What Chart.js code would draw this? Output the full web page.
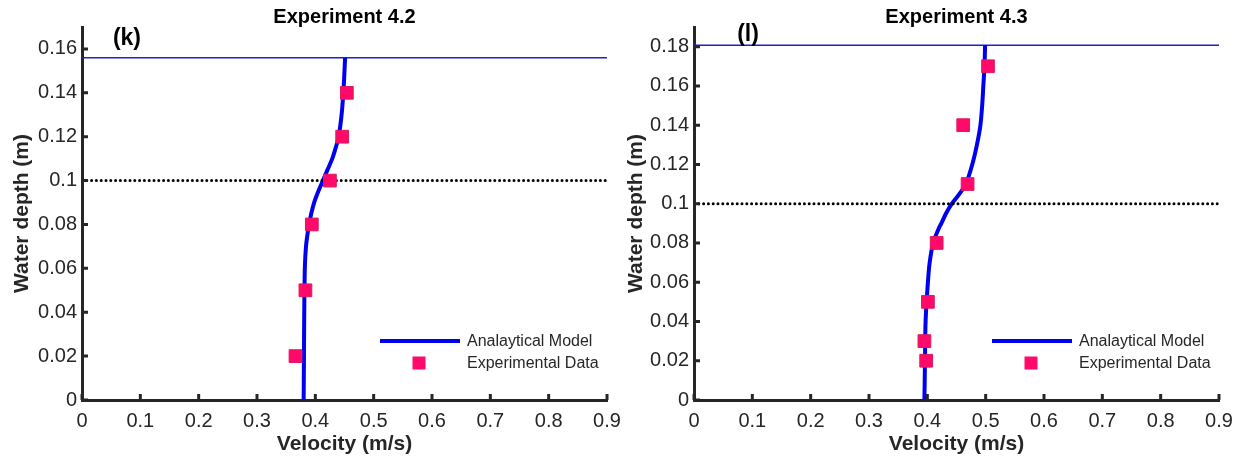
<!DOCTYPE html>
<html>
<head>
<meta charset="utf-8">
<script src="https://cdn.jsdelivr.net/npm/chart.js@4.4.1/dist/chart.umd.min.js"></script>
<style>
  body { margin: 0; background: #fff; }
  #wrap { position: relative; width: 1244px; height: 461px; }
  canvas { position: absolute; top: 0; }
  #chartK { left: 0; }
  #chartL { left: 622px; }
</style>
</head>
<body>
<div id="wrap">
  <canvas id="chartK" width="622" height="461"></canvas>
  <canvas id="chartL" width="622" height="461"></canvas>
</div>
<script>
// ---- Experiment 4.2 (k) ----
const depthModelK = [0, 0.02, 0.04, 0.06, 0.07, 0.078, 0.085, 0.09, 0.095, 0.1, 0.105, 0.11, 0.115, 0.12, 0.13, 0.14, 0.15, 0.156];
const velModelK   = [0.380, 0.3805, 0.381, 0.382, 0.384, 0.388, 0.393, 0.398, 0.405, 0.413, 0.421, 0.429, 0.435, 0.440, 0.445, 0.448, 0.450, 0.451];
const depthExpK = [0.02, 0.05, 0.08, 0.10, 0.12, 0.14];
const velExpK   = [0.366, 0.383, 0.394, 0.425, 0.446, 0.454];
const surfaceK = 0.156;

// ---- Experiment 4.3 (l) ----
const depthModelL = [0, 0.02, 0.04, 0.06, 0.07, 0.08, 0.087, 0.09, 0.095, 0.1, 0.105, 0.11, 0.12, 0.13, 0.14, 0.15, 0.16, 0.17, 0.1807];
const velModelL   = [0.395, 0.396, 0.397, 0.401, 0.404, 0.410, 0.419, 0.424, 0.432, 0.442, 0.455, 0.466, 0.477, 0.485, 0.491, 0.494, 0.496, 0.498, 0.499];
const depthExpL = [0.02, 0.03, 0.05, 0.08, 0.11, 0.14, 0.17];
const velExpL   = [0.398, 0.395, 0.401, 0.416, 0.469, 0.4615, 0.504];
const surfaceL = 0.1807;

const interfaceDepth = 0.1;
const xTicks  = [0, 0.1, 0.2, 0.3, 0.4, 0.5, 0.6, 0.7, 0.8, 0.9];
const yTicksK = [0, 0.02, 0.04, 0.06, 0.08, 0.1, 0.12, 0.14, 0.16];
const yTicksL = [0, 0.02, 0.04, 0.06, 0.08, 0.1, 0.12, 0.14, 0.16, 0.18];

const AXIS = '#262626';
const MODEL = '#0000f0';
const EXP = '#ff0a6a';
Chart.defaults.font.family = '"Liberation Sans", Arial, sans-serif';
Chart.defaults.color = AXIS;

const pts = (xs, ys) => xs.map((x, i) => ({ x: x, y: ys[i] }));
const fmt = v => String(+v.toFixed(2));

// MATLAB style ticks pointing into the axes
const inwardTicks = {
  id: 'inwardTicks',
  afterDraw(chart) {
    const { ctx, chartArea: a, scales: { x, y } } = chart;
    ctx.save();
    ctx.strokeStyle = AXIS;
    ctx.lineWidth = 3;
    ctx.beginPath();
    x.ticks.forEach(t => {
      const px = x.getPixelForValue(t.value);
      ctx.moveTo(px, a.bottom);
      ctx.lineTo(px, a.bottom - 6);
    });
    y.ticks.forEach(t => {
      const py = y.getPixelForValue(t.value);
      ctx.moveTo(a.left, py);
      ctx.lineTo(a.left + 6, py);
    });
    ctx.stroke();
    ctx.restore();
  }
};

// panel letter and in-axes legend
const annotations = {
  id: 'annotations',
  afterDraw(chart, args, opts) {
    const { ctx, chartArea: a, scales: { x, y } } = chart;
    const ds = chart.data.datasets;
    ctx.save();
    ctx.fillStyle = '#000';
    ctx.font = 'bold 23px "Liberation Sans", Arial, sans-serif';
    ctx.textBaseline = 'middle';
    ctx.fillText(opts.letter, x.getPixelForValue(opts.letterX), y.getPixelForValue(opts.letterY));

    // legend
    const ly1 = 341, ly2 = 363;
    ctx.strokeStyle = ds[0].borderColor;
    ctx.lineWidth = 4;
    ctx.beginPath();
    ctx.moveTo(a.left + 298, ly1);
    ctx.lineTo(a.left + 378, ly1);
    ctx.stroke();
    ctx.fillStyle = ds[1].backgroundColor;
    ctx.fillRect(a.left + 337 - 6.5, ly2 - 6.5, 13, 13);
    ctx.fillStyle = AXIS;
    ctx.font = '16px "Liberation Sans", Arial, sans-serif';
    ctx.fillText(ds[0].label, a.left + 385, ly1 + 1);
    ctx.fillText(ds[1].label, a.left + 385, ly2 + 1);
    ctx.restore();
  }
};

function makeChart(id, cfg) {
  return new Chart(document.getElementById(id), {
    type: 'scatter',
    data: {
      datasets: [
        {
          label: 'Analaytical Model',
          data: pts(cfg.modelVel, cfg.modelDepth),
          showLine: true,
          borderColor: MODEL,
          borderWidth: 4,
          pointRadius: 0,
          tension: 0.3,
          order: 2
        },
        {
          label: 'Experimental Data',
          data: pts(cfg.expVel, cfg.expDepth),
          backgroundColor: EXP,
          borderColor: '#e0185c',
          borderWidth: 1,
          pointStyle: 'rect',
          pointRadius: 9,
          order: 0
        },
        {
          label: 'surface',
          data: pts([0, 0.9], [cfg.surface, cfg.surface]),
          showLine: true,
          borderColor: '#2020c8',
          borderWidth: 1.5,
          pointRadius: 0,
          order: 3
        },
        {
          label: 'interface',
          data: pts([0, 0.9], [interfaceDepth, interfaceDepth]),
          showLine: true,
          borderColor: '#000',
          borderWidth: 3,
          borderDash: [0, 4.8],
          borderCapStyle: 'round',
          pointRadius: 0,
          order: 1
        }
      ]
    },
    options: {
      responsive: false,
      animation: false,
      events: [],
      layout: { padding: { right: cfg.padRight } },
      plugins: {
        legend: { display: false },
        tooltip: { enabled: false },
        title: {
          display: true,
          text: cfg.title,
          fullSize: false,
          color: '#000',
          font: { size: 20, weight: 'bold' },
          padding: { top: 5, bottom: -2 }
        },
        annotations: { letter: cfg.letter, letterX: cfg.letterX, letterY: cfg.letterY }
      },
      scales: {
        x: {
          min: 0, max: 0.9,
          afterBuildTicks: s => { s.ticks = xTicks.map(v => ({ value: v })); },
          afterFit: s => { s.height = 61; s.paddingLeft = 0; s.paddingRight = 0; },
          grid: { display: false, drawTicks: false },
          border: { display: true, width: 3, color: AXIS },
          ticks: { font: { size: 20 }, padding: 9, color: AXIS, callback: fmt, maxRotation: 0 },
          title: {
            display: true, text: 'Velocity (m/s)', color: AXIS,
            font: { size: 21, weight: 'bold' }, padding: { top: 0, bottom: 4 }
          }
        },
        y: {
          min: 0, max: cfg.yMax,
          afterBuildTicks: s => { s.ticks = cfg.yTicks.map(v => ({ value: v })); },
          afterFit: s => { s.width = cfg.yWidth; s.paddingTop = 0; s.paddingBottom = 0; },
          grid: { display: false, drawTicks: false },
          border: { display: true, width: 3, color: AXIS },
          ticks: { font: { size: 20 }, padding: 5, color: AXIS, callback: fmt },
          title: {
            display: true, text: 'Water depth (m)', color: AXIS,
            font: { size: 21, weight: 'bold' }, padding: { top: cfg.yTitlePad, bottom: 0 }
          }
        }
      }
    },
    plugins: [inwardTicks, annotations]
  });
}

makeChart('chartK', {
  title: 'Experiment 4.2', letter: '(k)', letterX: 0.053, letterY: 0.1645,
  modelVel: velModelK, modelDepth: depthModelK,
  expVel: velExpK, expDepth: depthExpK,
  surface: surfaceK, yMax: 0.17, yTicks: yTicksK,
  yWidth: 82, yTitlePad: 10, padRight: 15
});

makeChart('chartL', {
  title: 'Experiment 4.3', letter: '(l)', letterX: 0.074, letterY: 0.186,
  modelVel: velModelL, modelDepth: depthModelL,
  expVel: velExpL, expDepth: depthExpL,
  surface: surfaceL, yMax: 0.19, yTicks: yTicksL,
  yWidth: 72, yTitlePad: 2, padRight: 25
});
</script>
</body>
</html>
